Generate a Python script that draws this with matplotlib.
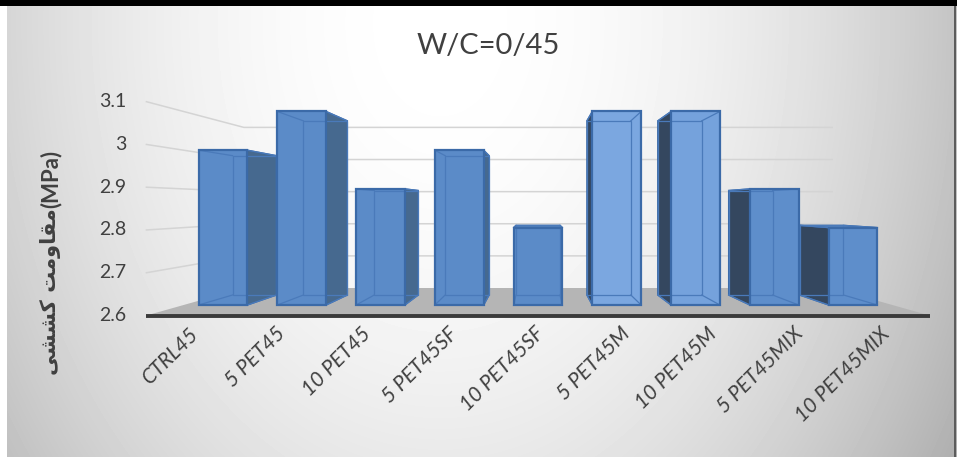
import numpy as np
import matplotlib.pyplot as plt
from matplotlib.font_manager import FontProperties
from matplotlib.patches import Polygon, Rectangle

categories = ['CTRL45', '5 PET45', '10 PET45', '5 PET45SF', '10 PET45SF',
              '5 PET45M', '10 PET45M', '5 PET45MIX', '10 PET45MIX']
strength = [3.0, 3.1, 2.9, 3.0, 2.8, 3.1, 3.1, 2.9, 2.8]
y_ticks = [2.6, 2.7, 2.8, 2.9, 3.0, 3.1]
y_ticklabels = ['2.6', '2.7', '2.8', '2.9', '3', '3.1']
title = 'W/C=0/45'
# "مقاومت کششی" written in shaped presentation forms, visual order
y_label_fa = '\ufbfd\ufeb8\ufeb8\ufb90 \ufe96\ufee3\ufeed\ufe8e\ufed8\ufee3'
y_label_unit = '(MPa)'

plt.rcParams['font.family'] = 'Lato'
TXT = '#404040'
ITALIC_FP = FontProperties(family='Lato', style='italic', size=15)
BOLD_FP = FontProperties(family='Lato', weight='bold', size=16)
FA_FP = FontProperties(family='DejaVu Sans', weight='bold', size=15)

W, H = 957, 457
fig = plt.figure(figsize=(W / 100, H / 100), dpi=100)

# soft grey background, lightest near the top middle
bg = fig.add_axes([0, 0, 1, 1], zorder=-2)
u = np.linspace(0, 1, W)[None, :]
w = np.linspace(0, 1, H)[:, None]
d2 = ((u - 0.46) / 0.55) ** 2 + ((w - 0.05) / 1.6) ** 2
shade = np.clip(1.0 - 0.24 * d2, 0, 1)
bg.imshow(shade, cmap='gray', vmin=0, vmax=1, aspect='auto',
          extent=[0, 1, 0, 1], interpolation='bilinear')
bg.set_axis_off()

# perspective set-up: front plane of the columns is the data plane
X0_PX, DX_PX = 223, 78.75     # pixel x of first column, column pitch
BASE_PX, DV_PX = 305, 387     # pixel y of column base, pixels per MPa
VX, VV = 4.0, 2.6 + (BASE_PX - 205) / DV_PX
S_FRONT_EDGE, S_LABEL, S_BAR_FRONT, S_BAR_BACK, S_WALL = 1.105, 1.097, 1.0, 0.9, 0.83
BAR_W = 0.62
V0 = y_ticks[0]
XL, XR = -0.5, len(categories) - 0.5

ax = fig.add_axes([0, 0, 1, 1])
ax.set_xlim(-X0_PX / DX_PX, (W - X0_PX) / DX_PX)
ax.set_ylim(V0 - (H - BASE_PX) / DV_PX, V0 + BASE_PX / DV_PX)
ax.set_axis_off()


def proj(x, v, s):
    return VX + s * (x - VX), VV + s * (v - VV)


# gridlines on the back wall and the left side wall
for v in y_ticks[1:]:
    p0 = proj(XL, v, S_FRONT_EDGE)
    p1 = proj(XL, v, S_WALL)
    p2 = proj(XR, v, S_WALL)
    ax.plot([p0[0], p1[0], p2[0]], [p0[1], p1[1], p2[1]],
            color='#d4d4d4', lw=1.1, zorder=1)

# floor
floor = [proj(XL, V0, S_FRONT_EDGE), proj(XR, V0, S_FRONT_EDGE),
         proj(XR, V0, S_WALL), proj(XL, V0, S_WALL)]
ax.add_patch(Polygon(floor, closed=True, fc='#b5b5b5', ec='none', zorder=2))
a, b = proj(XL, V0, S_FRONT_EDGE), proj(XR, V0, S_FRONT_EDGE)
ax.plot([a[0], b[0]], [a[1], b[1]], color='#3a3a3a', lw=2.8,
        solid_capstyle='butt', zorder=3)

front_colors = ['#5b8bc8'] * 5 + ['#7ba7e0', '#75a2dc'] + ['#5e8ecb'] * 2
EDGE = '#3b6aa8'
INNER = '#4a7aba'

for i, val in enumerate(strength):
    xl, xr = i - BAR_W / 2, i + BAR_W / 2
    F = lambda x, v: proj(x, v, S_BAR_FRONT)
    B = lambda x, v: proj(x, v, S_BAR_BACK)
    # visible side face
    if i < VX:
        side = [F(xr, V0), F(xr, val), B(xr, val), B(xr, V0)]
        ax.add_patch(Polygon(side, closed=True, fc='#46698f', ec=EDGE,
                             lw=1.0, zorder=4))
    elif i > VX:
        side = [F(xl, V0), F(xl, val), B(xl, val), B(xl, V0)]
        ax.add_patch(Polygon(side, closed=True, fc='#34475f', ec=EDGE,
                             lw=1.0, zorder=4))
    # top face when it sits below eye level
    if val < VV:
        top = [F(xl, val), F(xr, val), B(xr, val), B(xl, val)]
        ax.add_patch(Polygon(top, closed=True, fc='#5584c0', ec=EDGE,
                             lw=1.0, zorder=4))
    front = [F(xl, V0), F(xr, V0), F(xr, val), F(xl, val)]
    ax.add_patch(Polygon(front, closed=True, fc=front_colors[i], ec='none',
                         zorder=5))
    # hidden edges seen through the glassy column
    back = [B(xl, V0), B(xr, V0), B(xr, val), B(xl, val)]
    ax.add_patch(Polygon(back, closed=True, fc='none', ec=INNER, lw=0.9,
                         zorder=6))
    for (fx, fy), (bx, by) in zip(front, back):
        ax.plot([fx, bx], [fy, by], color=INNER, lw=0.9, zorder=6)
    ax.add_patch(Polygon(front, closed=True, fc='none', ec=EDGE, lw=1.6,
                         zorder=7))

# value axis labels on the front edge of the side wall
for v, lab in zip(y_ticks, y_ticklabels):
    ax.annotate(lab, xy=proj(XL, v, S_FRONT_EDGE), xytext=(-20, 0),
                textcoords='offset pixels', ha='right', va='center',
                fontsize=14, color=TXT, zorder=8)

# category labels
for i, lab in enumerate(categories):
    ax.annotate(lab, xy=proj(i, V0, S_LABEL), xytext=(3, -16),
                textcoords='offset pixels', ha='right', va='center',
                rotation=45, rotation_mode='anchor',
                fontproperties=ITALIC_FP, color=TXT, zorder=8)

fig.text(0.51, 1 - 46 / H, title, ha='center', va='center', fontsize=21,
         color=TXT)

# rotated axis title: Persian words below, unit above
LABEL_X, JOIN_Y = 51 / W, 1 - 208 / H
fig.text(LABEL_X, JOIN_Y, y_label_unit, rotation=90, ha='center', va='bottom',
         fontproperties=BOLD_FP, color=TXT)
fig.text(LABEL_X, JOIN_Y, y_label_fa, rotation=90, ha='center', va='top',
         fontproperties=FA_FP, color=TXT)

# frame strips along the top, left and right edges
fig.patches.append(Rectangle((0, 1 - 6 / H), 1, 6 / H, transform=fig.transFigure,
                             fc='black', ec='none', zorder=10))
fig.patches.append(Rectangle((0, 0), 7 / W, 1 - 6 / H, transform=fig.transFigure,
                             fc='white', ec='none', zorder=10))
fig.patches.append(Rectangle((1 - 3 / W, 0), 2 / W, 1 - 6 / H,
                             transform=fig.transFigure, fc='#5c5c5c',
                             ec='none', zorder=10))

fig.savefig('out.png', dpi=100)
